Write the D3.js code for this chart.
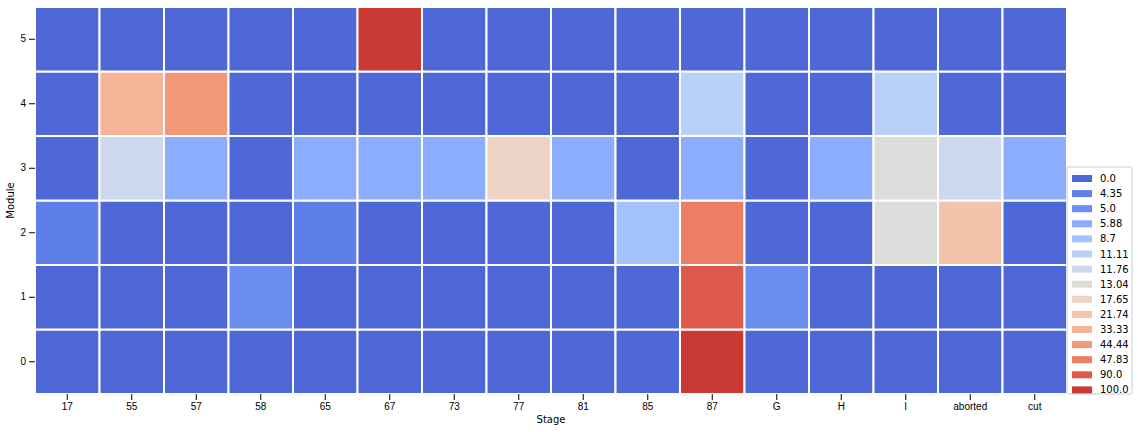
<!DOCTYPE html><html><head><meta charset="utf-8">
<script src="https://cdn.jsdelivr.net/npm/d3@7"></script>
<style>body{margin:0;background:#fff;font-family:"DejaVu Sans",sans-serif}</style></head><body>
<svg id="c" width="1138" height="432"></svg>
<script>
const stages=["17","55","57","58","65","67","73","77","81","85","87","G","H","I","aborted","cut"];
const modules=["0","1","2","3","4","5"];
const row0=[0,0,0,0,0,0,0,0,0,0,100,0,0,0,0,0];
const row1=[0,0,0,5.0,0,0,0,0,0,0,90.0,5.0,0,0,0,0];
const row2=[4.35,0,0,0,4.35,0,0,0,0,8.7,47.83,0,0,13.04,21.74,0];
const row3=[0,11.76,5.88,0,5.88,5.88,5.88,17.65,5.88,0,5.88,0,5.88,13.04,11.76,5.88];
const row4=[0,33.33,44.44,0,0,0,0,0,0,0,11.11,0,0,11.11,0,0];
const row5=[0,0,0,0,0,100,0,0,0,0,0,0,0,0,0,0];
const rows=[row0,row1,row2,row3,row4,row5];
const legendValues=[0.0,4.35,5.0,5.88,8.7,11.11,11.76,13.04,17.65,21.74,33.33,44.44,47.83,90.0,100.0];
const legendColors=["#4f68d8","#5f7fe8","#6b8cf0","#8cadfd","#a4c2fe","#b9d0f9","#cbd8ee","#dcdcdb","#ecd3c5","#f4c3ab","#f6b496","#f29977","#ec7f63","#de5a4a","#c93a35"];
const color=d3.scaleOrdinal().domain(legendValues).range(legendColors);
const svg=d3.select("#c");
const L=35,R=1067,T=7,B=394;
const x=d3.scaleBand().domain(stages).range([L,R]);
const y=d3.scaleBand().domain(modules).range([B,T]);
const cells=[];rows.forEach((r,i)=>r.forEach((v,j)=>cells.push({m:modules[i],s:stages[j],v})));
svg.append("g").selectAll("rect").data(cells).join("rect")
 .attr("x",d=>x(d.s)).attr("y",d=>y(d.m)).attr("width",x.bandwidth()).attr("height",y.bandwidth())
 .attr("fill",d=>color(d.v)).attr("stroke","#fff").attr("stroke-width",2);
const xa=svg.append("g").attr("transform",`translate(0,${B})`).call(d3.axisBottom(x).tickSizeOuter(0));
const ya=svg.append("g").attr("transform",`translate(${L},0)`).call(d3.axisLeft(y).tickSizeOuter(0));
[xa,ya].forEach(a=>{a.selectAll("text").attr("font-size",10).attr("fill","#000");a.select(".domain").remove();});
svg.append("text").attr("x",(L+R)/2).attr("y",423).attr("text-anchor","middle").attr("font-size",10).text("Stage");
svg.append("text").attr("transform",`translate(14,${(T+B)/2}) rotate(-90)`).attr("text-anchor","middle").attr("font-size",10).text("Module");
const lg=svg.append("g").attr("transform","translate(1067,167)");
lg.append("rect").attr("width",65).attr("height",227).attr("fill","#fff").attr("stroke","#ccc").attr("rx",2);
const it=lg.selectAll("g").data(legendValues).join("g").attr("transform",(d,i)=>`translate(5,${8+i*15.1})`);
it.append("rect").attr("width",20).attr("height",7).attr("fill",d=>color(d));
it.append("text").attr("x",28).attr("y",7).attr("font-size",10).text(d=>String(d).includes(".")?d:d.toFixed(1));
</script></body></html>
